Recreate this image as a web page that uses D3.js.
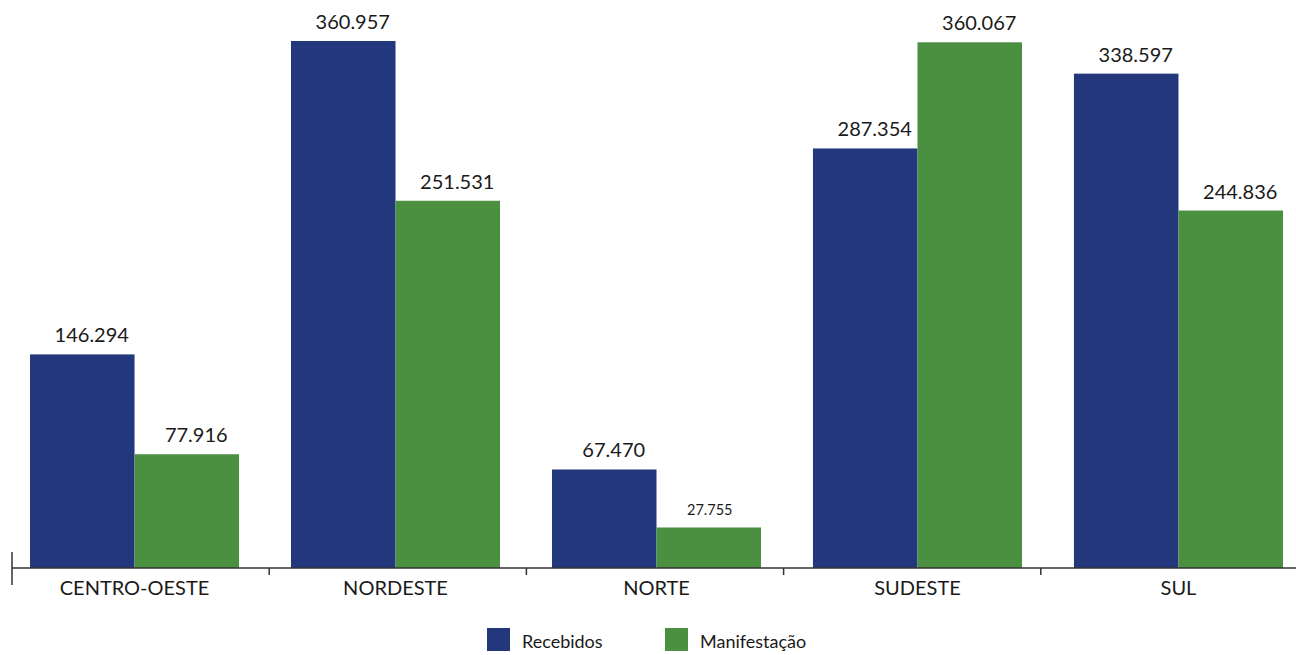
<!DOCTYPE html>
<html><head><meta charset="utf-8">
<script src="https://cdn.jsdelivr.net/npm/d3@7"></script>
<style>body{margin:0;background:#fff}svg{display:block}text{font-family:Lato,"Open Sans",sans-serif;fill:#1a1a1a}</style>
</head><body><svg id="c" width="1296" height="655"></svg>
<script>
const categories = ["CENTRO-OESTE","NORDESTE","NORTE","SUDESTE","SUL"];
const seriesNames = ["Recebidos","Manifestação"];
const recebidos = [146294, 360957, 67470, 287354, 338597];
const manifestacao = [77916, 251531, 27755, 360067, 244836];
const valueLabels = [["146.294","77.916"],["360.957","251.531"],["67.470","27.755"],["287.354","360.067"],["338.597","244.836"]];
const colors = ["#22377c","#4b8f41"];

const svg = d3.select("#c");
const yBase = 568;
const y = d3.scaleLinear().domain([0, 360957]).range([yBase, 41]);
const xAxisScale = d3.scaleBand().domain(categories).range([12, 1298]).padding(0);
const xGroup = d3.scaleBand().domain(categories).range([30, 1283]).paddingInner(0.199).paddingOuter(0);
const xSub = d3.scaleBand().domain(seriesNames).range([0, xGroup.bandwidth()]).padding(0);

const data = categories.map((c,i)=>({cat:c, vals:[recebidos[i], manifestacao[i]], labels: valueLabels[i]}));

const g = svg.selectAll("g.grp").data(data).join("g").attr("class","grp")
  .attr("transform", d=>`translate(${xGroup(d.cat)},0)`);
g.selectAll("rect").data(d=>d.vals.map((v,j)=>({v,j}))).join("rect")
  .attr("x", d=>xSub(seriesNames[d.j]))
  .attr("width", xSub.bandwidth())
  .attr("y", d=>y(d.v))
  .attr("height", d=>yBase - y(d.v))
  .attr("fill", d=>colors[d.j]);
g.selectAll("text.val").data(d=>d.vals.map((v,j)=>({v,j,l:d.labels[j]}))).join("text").attr("class","val")
  .attr("x", d=>xSub(seriesNames[d.j]) + xSub.bandwidth()/2 + (d.v < 50000 ? 1 : 9.5))
  .attr("y", d=>y(d.v) - 12)
  .attr("text-anchor","middle")
  .style("font-size", d=>d.v < 50000 ? "14.5px" : "20px")
  .text(d=>d.l);

// axis
svg.append("line").attr("x1",12).attr("x2",1296).attr("y1",yBase).attr("y2",yBase).attr("stroke","#333").attr("stroke-width",1.5);
svg.append("line").attr("x1",12).attr("x2",12).attr("y1",552).attr("y2",585).attr("stroke","#333").attr("stroke-width",1.5);
const tickPos = categories.slice(1).map(c=>xAxisScale(c));
svg.selectAll("line.tk").data(tickPos).join("line").attr("class","tk")
  .attr("x1",d=>d).attr("x2",d=>d).attr("y1",yBase).attr("y2",yBase+7).attr("stroke","#333").attr("stroke-width",1.5);
svg.selectAll("text.cat").data(categories).join("text").attr("class","cat")
  .attr("x", d=>xGroup(d)+xGroup.bandwidth()/2).attr("y", 595)
  .attr("text-anchor","middle").style("font-size","20px").text(d=>d);

// legend
const legX = [487, 665];
const lg = svg.selectAll("g.leg").data(seriesNames).join("g").attr("class","leg")
  .attr("transform",(d,i)=>`translate(${legX[i]},628)`);
lg.append("rect").attr("width",23).attr("height",23).attr("fill",(d,i)=>colors[i]);
lg.append("text").attr("x",35).attr("y",20).style("font-size","18px").text(d=>d);
</script></body></html>
